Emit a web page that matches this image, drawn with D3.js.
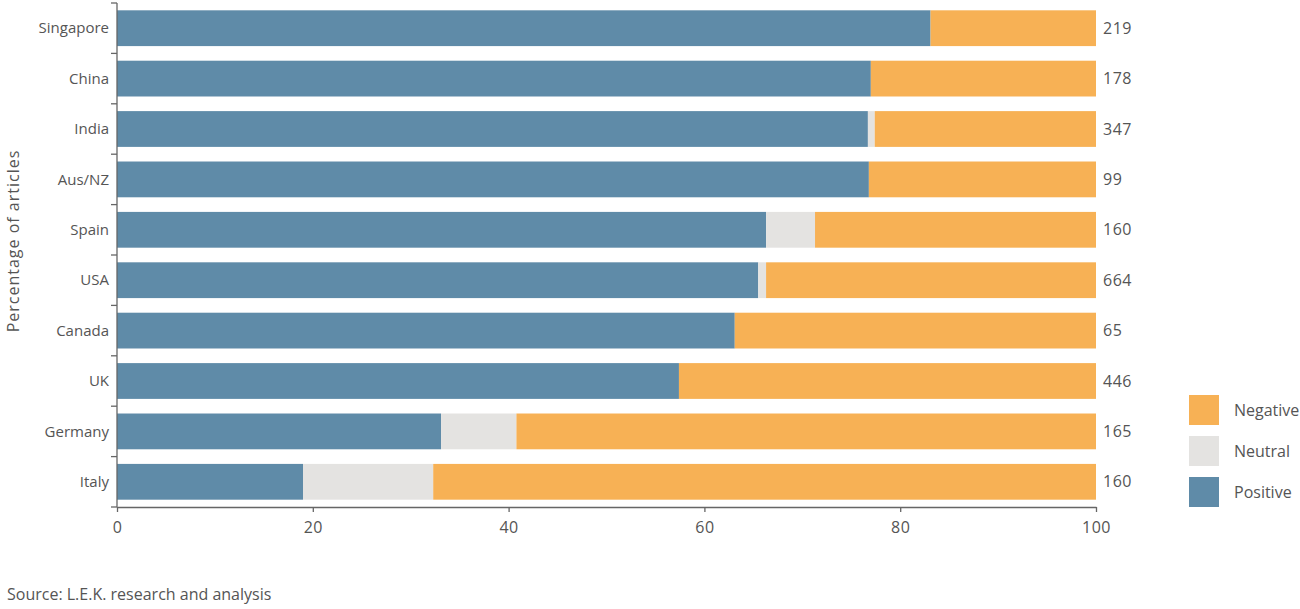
<!DOCTYPE html>
<html><head><meta charset="utf-8">
<script src="https://cdn.jsdelivr.net/npm/d3@7"></script>
<style>body{margin:0;background:#fff;} text{font-family:"Open Sans","Noto Sans",sans-serif;}</style>
</head><body>
<svg id="c" width="1300" height="609"></svg>
<script>
const categories = ["Singapore","China","India","Aus/NZ","Spain","USA","Canada","UK","Germany","Italy"];
const positive = [83.1, 77.0, 76.7, 76.8, 66.3, 65.5, 63.1, 57.4, 33.1, 19.0];
const neutral  = [0, 0, 0.7, 0, 5.0, 0.8, 0, 0, 7.7, 13.3];
const negative = positive.map((p,i)=>100-p-neutral[i]);
const counts = [219, 178, 347, 99, 160, 664, 65, 446, 165, 160];
const seriesNames = ["Positive","Neutral","Negative"];
const legendOrder = ["Negative","Neutral","Positive"];
const xTicks = [0,20,40,60,80,100];
const colors = {Positive:"#5f8ba8", Neutral:"#e4e3e1", Negative:"#f7b155"};

const svg = d3.select("#c");
const x = d3.scaleLinear().domain([0,100]).range([117,1096]);
const y = d3.scaleBand().domain(categories).range([3,507]).paddingInner(0.29).paddingOuter(0.145);

const rows = categories.map((c,i)=>({cat:c, Positive:positive[i], Neutral:neutral[i], Negative:negative[i]}));
const stack = d3.stack().keys(seriesNames)(rows);

svg.append("g").selectAll("g").data(stack).join("g").attr("fill",d=>colors[d.key])
  .selectAll("rect").data(d=>d).join("rect")
  .attr("x",d=>x(d[0])).attr("width",d=>Math.max(0,x(d[1])-x(d[0])))
  .attr("y",d=>y(d.data.cat)).attr("height",y.bandwidth());

// y axis with ticks at band boundaries
const yAx = svg.append("g");
yAx.append("line").attr("x1",117).attr("x2",117).attr("y1",3).attr("y2",507).attr("stroke","#666").attr("stroke-width",1.3);
const bounds = d3.range(categories.length+1).map(i=>3 + i*(504/categories.length));
yAx.selectAll("line.t").data(bounds).join("line").attr("class","t")
  .attr("x1",111).attr("x2",117).attr("y1",d=>d).attr("y2",d=>d).attr("stroke","#666").attr("stroke-width",1.3);
yAx.selectAll("text").data(categories).join("text")
  .attr("x",109).attr("y",d=>y(d)+y.bandwidth()/2).attr("dy","0.35em")
  .attr("text-anchor","end").attr("font-size",15).attr("fill","#555").text(d=>d);

// x axis
const xAx = svg.append("g").attr("transform","translate(0,507)")
  .call(d3.axisBottom(x).tickValues(xTicks).tickSize(5).tickPadding(10).tickSizeOuter(0));
xAx.select(".domain").attr("stroke","#666").attr("stroke-width",1.3);
xAx.selectAll(".tick line").attr("stroke","#666").attr("stroke-width",1.3);
xAx.selectAll("text").attr("font-size",16).attr("letter-spacing",0.5).attr("fill","#555").attr("font-family","'Open Sans','Noto Sans',sans-serif");

// counts
svg.append("g").selectAll("text").data(categories).join("text")
  .attr("x",1103).attr("y",d=>y(d)+y.bandwidth()/2).attr("dy","0.35em")
  .attr("font-size",16).attr("letter-spacing",0.5).attr("fill","#555").text((d,i)=>counts[i]);

// y title
svg.append("text").attr("transform","translate(19,241) rotate(-90)").attr("text-anchor","middle")
  .attr("font-size",16).attr("letter-spacing",1).attr("fill","#555").text("Percentage of articles");

// legend
const lg = svg.append("g").selectAll("g").data(legendOrder).join("g")
  .attr("transform",(d,i)=>`translate(1189,${395+i*41})`);
lg.append("rect").attr("width",30).attr("height",30).attr("fill",d=>colors[d]);
lg.append("text").attr("x",45).attr("y",15).attr("dy","0.35em").attr("font-size",16).attr("fill","#555").text(d=>d);

// source
svg.append("text").attr("x",7).attr("y",600).attr("font-size",16).attr("fill","#555").text("Source: L.E.K. research and analysis");
</script>
</body></html>
